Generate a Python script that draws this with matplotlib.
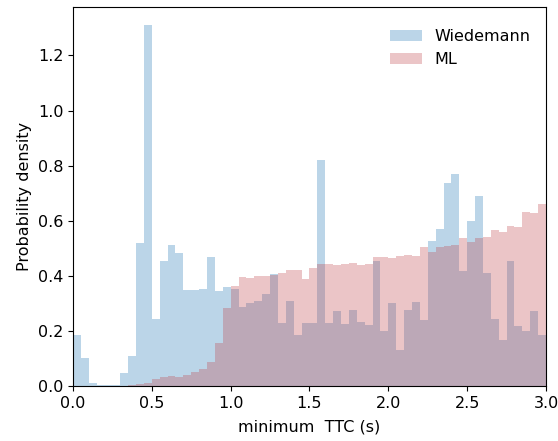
import numpy as np
import matplotlib
matplotlib.use("Agg")
import matplotlib.pyplot as plt

# histogram bins: 0 to 3 s, width 0.05 s
bin_edges = np.round(np.arange(0, 3.0001, 0.05), 3)

# probability density per bin
wiedemann = [0.185, 0.10, 0.01, 0.004, 0.004, 0.004, 0.046, 0.11, 0.52, 1.31,
             0.244, 0.453, 0.513, 0.482, 0.349, 0.349, 0.353, 0.47, 0.344, 0.361,
             0.352, 0.286, 0.303, 0.307, 0.335, 0.407, 0.228, 0.31, 0.185, 0.23,
             0.228, 0.82, 0.23, 0.273, 0.224, 0.276, 0.234, 0.222, 0.455, 0.198,
             0.303, 0.131, 0.276, 0.305, 0.24, 0.528, 0.571, 0.737, 0.77, 0.418,
             0.60, 0.688, 0.412, 0.242, 0.167, 0.452, 0.218, 0.201, 0.273, 0.185]
ml = [0.0, 0.0, 0.001, 0.001, 0.001, 0.001, 0.001, 0.002, 0.007, 0.012,
      0.024, 0.034, 0.038, 0.034, 0.040, 0.050, 0.062, 0.086, 0.155, 0.284,
      0.364, 0.395, 0.392, 0.398, 0.40, 0.404, 0.41, 0.42, 0.42, 0.39,
      0.428, 0.442, 0.442, 0.438, 0.442, 0.448, 0.438, 0.444, 0.468, 0.467,
      0.464, 0.473, 0.476, 0.473, 0.504, 0.485, 0.504, 0.509, 0.513, 0.537,
      0.521, 0.537, 0.541, 0.565, 0.56, 0.579, 0.576, 0.633, 0.628, 0.662]

labels = ["Wiedemann", "ML"]

plt.rcParams["font.size"] = 11.5

fig = plt.figure(figsize=(5.58, 4.41), dpi=100)
ax = fig.add_axes([0.1308, 0.1247, 0.8477, 0.8593])

left = bin_edges[:-1]
ax.hist(left, bins=bin_edges, weights=wiedemann, histtype="stepfilled",
        color="tab:blue", alpha=0.3, lw=0, label=labels[0])
ax.hist(left, bins=bin_edges, weights=ml, histtype="stepfilled",
        color="#c04048", alpha=0.3, lw=0, label=labels[1])

ax.set_xlim(0, 3.0)
ax.set_xlabel("minimum  TTC (s)", labelpad=6.5)
ax.set_ylabel("Probability density")
ax.legend(loc="upper left", bbox_to_anchor=(0.64, 0.98), frameon=False)

fig.savefig("out.png", dpi=100)
